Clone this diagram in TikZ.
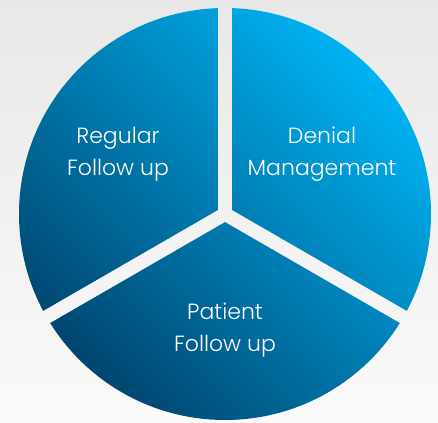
\documentclass[tikz,border=0pt]{standalone}
\usepackage{fontspec}
\newfontfamily\slicefont{Poppins}[UprightFont=* Light]
\usetikzlibrary{calc}
\definecolor{pieLight}{RGB}{0,178,242}
\definecolor{pieDark}{RGB}{0,70,112}
\tikzset{
    backdrop/.style={top color=black!9, bottom color=black!2},
    pieshade/.style={top color=pieLight, bottom color=pieDark, shading angle=-45},
    slicetext/.style={text=white, align=center, inner sep=0pt, font=\slicefont\fontsize{22}{32}\selectfont}
}

\begin{document}
\begin{tikzpicture}[x=1pt, y=1pt]
        % Background
        \fill[backdrop] (0,0) rectangle (438,422);
        \useasboundingbox (0,0) rectangle (438,422);
        \coordinate (C) at (225,208);

        % Slices
        \foreach \ang in {30,150,270}{
            \coordinate (P) at ($(C)+(\ang:8.1)$);
            \begin{scope}
                \clip (C) circle (206);
                \clip (P) -- ($(P)+(\ang+60:600)$) -- ($(P)+(\ang:900)$) -- ($(P)+(\ang-60:600)$) -- cycle;
                \shade[pieshade] (C) circle (206);
            \end{scope}
        }

        % Labels
        \node[slicetext] (regular) at (118,268) {Regular\\Follow up};
        \node[slicetext] (denial) at (322,268) {Denial\\Management};
        \node[slicetext] (patient) at (225,92) {Patient\\Follow up};
\end{tikzpicture}
\end{document}
